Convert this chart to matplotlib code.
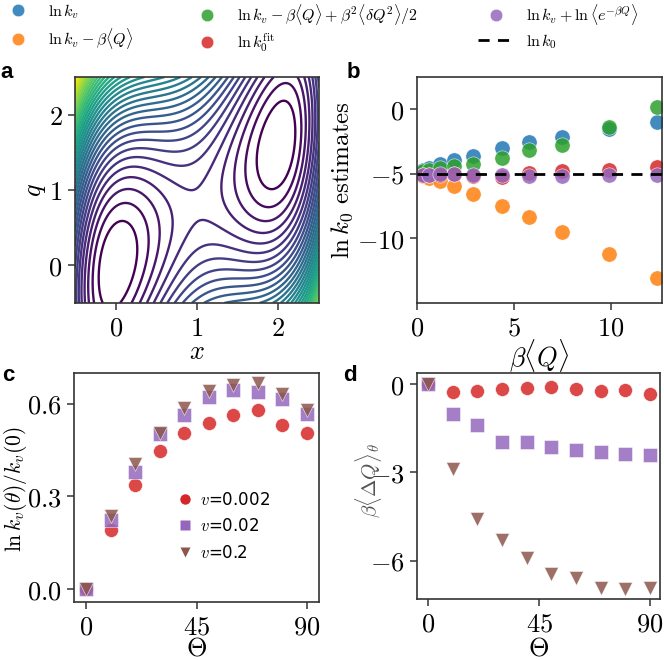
import numpy as np
import matplotlib
matplotlib.use("Agg")
import matplotlib.pyplot as plt
from matplotlib import ticker
from matplotlib.lines import Line2D

plt.rcParams['mathtext.fontset'] = 'cm'
plt.rcParams['font.family'] = ['DejaVu Sans']

# ---------------- data ----------------
# panel b
beta_Q = [0.3, 0.6, 1.2, 1.9, 2.9, 4.4, 5.8, 7.5, 9.9, 12.4]
ln_kv = [-4.68, -4.55, -4.24, -3.96, -3.6, -3.0, -2.55, -2.11, -1.54, -0.95]
ln_kv_mQ = [-5.2, -5.3, -5.58, -5.96, -6.53, -7.5, -8.35, -9.49, -11.23, -13.1]
ln_kv_cum2 = [-4.8, -4.73, -4.55, -4.42, -4.2, -3.78, -3.14, -2.78, -1.39, 0.2]
ln_k0_fit = [-5.05, -5.1, -5.05, -5.0, -5.2, -5.24, -4.93, -4.8, -4.68, -4.5]
ln_kv_exp = [-5.05, -5.05, -5.0, -5.0, -5.06, -5.06, -5.14, -5.19, -5.06, -5.06]
ln_k0_true = -5.0

# panels c, d
theta = [0, 10, 20, 30, 40, 50, 60, 70, 80, 90]
velocities = ['0.002', '0.02', '0.2']
c_v0002 = [0.0, 0.19, 0.338, 0.447, 0.506, 0.539, 0.563, 0.579, 0.533, 0.506]
c_v002 = [0.0, 0.225, 0.379, 0.503, 0.563, 0.622, 0.644, 0.639, 0.615, 0.566]
c_v02 = [0.0, 0.236, 0.404, 0.506, 0.588, 0.642, 0.660, 0.669, 0.631, 0.579]
d_v0002 = [0.0, -0.25, -0.22, -0.17, -0.14, -0.10, -0.17, -0.23, -0.19, -0.33]
d_v002 = [0.0, -1.02, -1.38, -1.97, -1.95, -2.15, -2.25, -2.29, -2.37, -2.40]
d_v02 = [0.0, -2.89, -4.59, -5.29, -5.89, -6.46, -6.59, -6.91, -6.95, -6.93]

# panel a potential parameters
well_A, coup_B, slope_c = 0.73, 0.5, 0.8
level_start, level_step = 0.155, 0.15

# ---------------- figure ----------------
fig = plt.figure(figsize=(6.64, 6.60), dpi=100)
W, H = 664, 660
def ax_at(l, t, r, b):
    return fig.add_axes([l / W, 1 - b / H, (r - l) / W, (b - t) / H])

box_a = (75, 77, 319, 303)
box_b = (417, 77, 662, 303)
box_c = (74, 373, 319, 602)
box_d = (417, 373, 660, 599)
axa = ax_at(*box_a)
axb = ax_at(*box_b)
axc = ax_at(*box_c)
axd = ax_at(*box_d)

TICK_FS = 19
LAB_FS = 19
mfmt = ticker.FuncFormatter(lambda v, p: f'${v:g}$')
mfmt1 = ticker.FuncFormatter(lambda v, p: f'${v:.1f}$')

for ax in (axa, axb, axc, axd):
    for s in ax.spines.values():
        s.set_linewidth(1.2)
        s.set_color('#333333')
    ax.tick_params(direction='out', length=5, width=1.1, color='#333333',
                   labelsize=TICK_FS, pad=4)

def place_labels(ax, box, xlab_y, ylab_x, ylab_y):
    l, t, r, b = box
    ax.xaxis.label.set_va('center')
    ax.yaxis.label.set_va('center')
    ax.xaxis.set_label_coords(0.5, (b - xlab_y) / (b - t))
    ax.yaxis.set_label_coords((ylab_x - l) / (r - l), (b - ylab_y) / (b - t))

# panel a
xg = np.linspace(-0.5, 2.5, 500)
qg = np.linspace(-0.5, 2.5, 500)
X, Q = np.meshgrid(xg, qg)
V = well_A * X**2 * (X - 2)**2 + coup_B * (Q - slope_c * X)**2
levels = np.arange(level_start, V.max(), level_step)
axa.contour(X, Q, V, levels=levels, cmap='viridis', linewidths=1.7)
axa.set_xlim(-0.5, 2.5)
axa.set_ylim(-0.5, 2.5)
axa.set_xticks([0, 1, 2])
axa.set_yticks([0, 1, 2])
axa.xaxis.set_major_formatter(mfmt)
axa.yaxis.set_major_formatter(mfmt)
axa.set_xlabel(r'$x$', fontsize=LAB_FS)
axa.set_ylabel(r'$q$', fontsize=LAB_FS)
place_labels(axa, box_a, 352, 35, 190)

# panel b
cols = {'blue': '#1f77b4', 'orange': '#ff7f0e', 'green': '#2ca02c',
        'red': '#d62728', 'purple': '#9467bd', 'brown': '#8c564b'}
series_b = [
    (ln_kv, cols['blue'], r'$\ln k_v$'),
    (ln_kv_mQ, cols['orange'], r'$\ln k_v - \beta\langle Q\rangle$'),
    (ln_kv_cum2, cols['green'], r'$\ln k_v - \beta\langle Q\rangle + \beta^2\langle \delta Q^2\rangle/2$'),
    (ln_k0_fit, cols['red'], r'$\ln k_0^{\mathrm{fit}}$'),
    (ln_kv_exp, cols['purple'], r'$\ln k_v + \ln\langle e^{-\beta Q}\rangle$'),
]
for yv, c, lab in series_b:
    axb.plot(beta_Q, yv, 'o', ms=11, color=c, alpha=0.85, mec='white', mew=0.4)
axb.axhline(ln_k0_true, color='black', ls='--', lw=2, zorder=5, dashes=(4, 3))
axb.set_xlim(0, 12.66)
axb.set_ylim(-15, 2.5)
axb.set_xticks([0, 5, 10])
axb.set_yticks([0, -5, -10])
axb.xaxis.set_major_formatter(mfmt)
axb.yaxis.set_major_formatter(mfmt)
axb.set_xlabel(r'$\beta\langle Q\rangle$', fontsize=LAB_FS)
axb.set_ylabel(r'$\ln k_0\ \mathrm{estimates}$', fontsize=18)
place_labels(axb, box_b, 356, 342, 180)

# panel c
mk = [('o', cols['red']), ('s', cols['purple']), ('v', cols['brown'])]
for yv, (m, c) in zip([c_v0002, c_v002, c_v02], mk):
    axc.plot(theta, yv, m, ms=10, color=c, alpha=0.85, mec='white', mew=0.4)
axc.set_xlim(-5, 95)
axc.set_ylim(-0.042, 0.70)
axc.set_xticks([0, 45, 90])
axc.set_yticks([0.0, 0.3, 0.6])
axc.xaxis.set_major_formatter(mfmt)
axc.yaxis.set_major_formatter(mfmt1)
axc.set_xlabel(r'$\Theta$', fontsize=LAB_FS)
axc.set_ylabel(r'$\ln k_v(\theta)/k_v(0)$', fontsize=15.5)
place_labels(axc, box_c, 648, 16, 489)
leg_handles = [Line2D([], [], marker=m, ls='none', ms=7.5, color=c, mec='none')
               for m, c in mk]
axc.legend(leg_handles, [r'$v$=' + v for v in velocities],
           loc='upper left', bbox_to_anchor=(178 / W, 1 - 491 / H),
           bbox_transform=fig.transFigure, frameon=False, borderpad=0,
           borderaxespad=0, fontsize=12, handletextpad=0.5, labelspacing=0.5,
           handlelength=0.8)

# panel d
for yv, (m, c) in zip([d_v0002, d_v002, d_v02], mk):
    axd.plot(theta, yv, m, ms=10, color=c, alpha=0.85, mec='white', mew=0.4)
axd.set_xlim(-4.5, 94)
axd.set_ylim(-7.3, 0.38)
axd.set_xticks([0, 45, 90])
axd.set_yticks([0, -3, -6])
axd.xaxis.set_major_formatter(mfmt)
axd.yaxis.set_major_formatter(mfmt)
axd.set_xlabel(r'$\Theta$', fontsize=LAB_FS)
axd.set_ylabel(r'$\beta\langle\Delta Q\rangle_\theta$', fontsize=15, color='#555555')
place_labels(axd, box_d, 648, 369, 481)

# panel letters
for (px, py), let in zip([(7, 73), (353, 73), (8, 375), (350, 375)], 'abcd'):
    fig.text(px / W, 1 - py / H, let, fontsize=16, fontweight='bold',
             family='Liberation Sans', ha='center', va='center')

# top legends (three columns)
def handle(c):
    return Line2D([], [], marker='o', ls='none', ms=9, color=c, alpha=0.85,
                  mec='white', mew=0.4)
groups = [
    ([handle(cols['blue']), handle(cols['orange'])], [series_b[0][2], series_b[1][2]], 0),
    ([handle(cols['green']), handle(cols['red'])], [series_b[2][2], series_b[3][2]], 189),
    ([handle(cols['purple']), Line2D([], [], color='black', ls='--', lw=2, dashes=(4, 3))],
     [series_b[4][2], r'$\ln k_0$'], 478),
]
for hs, ls_, x0 in groups:
    fig.legend(hs, ls_, loc='upper left', bbox_to_anchor=(x0 / W, 1 - 2 / H),
               frameon=False, fontsize=11.5, handlelength=2.3, handletextpad=0.7,
               labelspacing=0.3, borderaxespad=0.0, borderpad=0)

fig.savefig('out.png', dpi=100)
